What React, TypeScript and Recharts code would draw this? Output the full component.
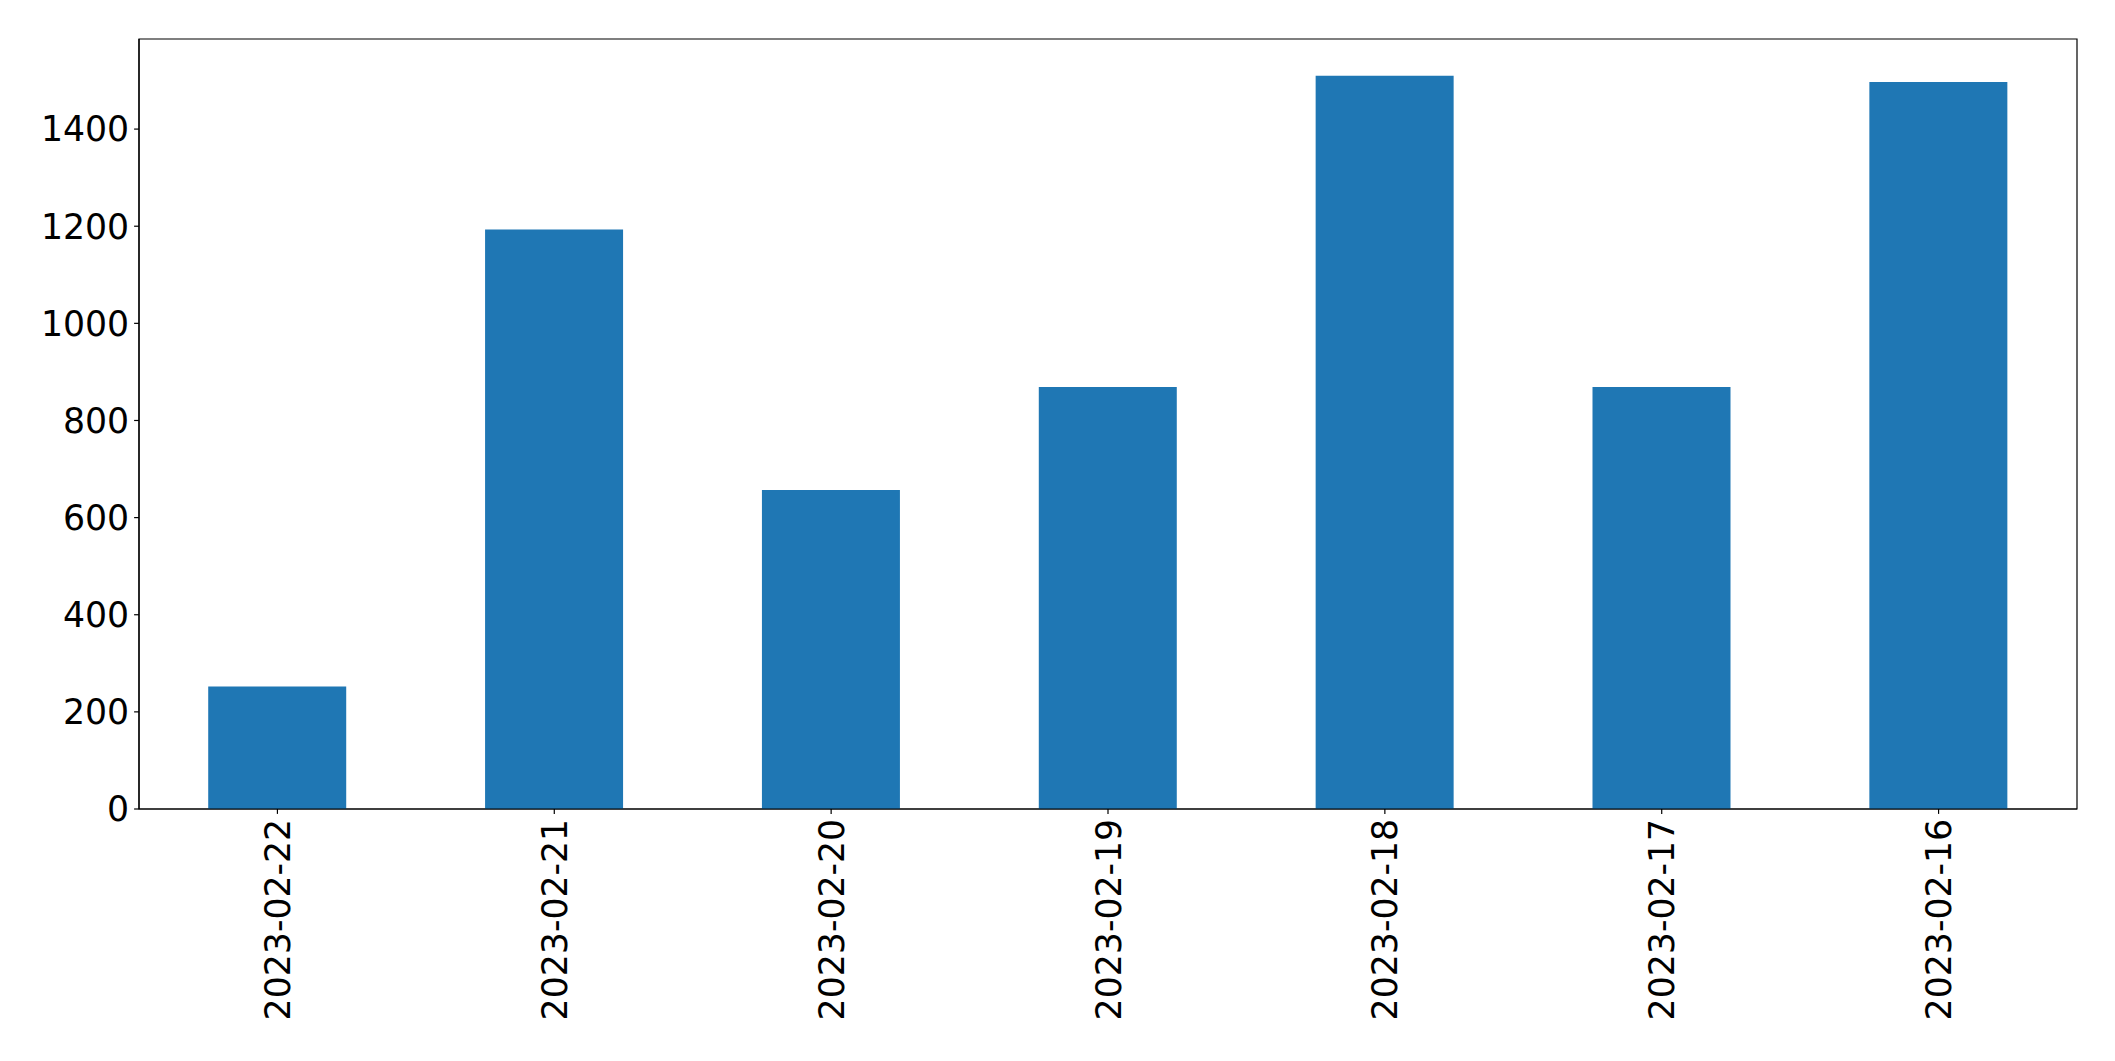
import { BarChart, Bar, XAxis, YAxis, ReferenceArea } from "recharts";

document.body.style.margin = "0";

const dates = [
  "2023-02-22",
  "2023-02-21",
  "2023-02-20",
  "2023-02-19",
  "2023-02-18",
  "2023-02-17",
  "2023-02-16",
];
const counts = [252, 1193, 657, 869, 1510, 869, 1497];
const yTicks = [0, 200, 400, 600, 800, 1000, 1200, 1400];

const data = dates.map((d, i) => ({ date: d, count: counts[i] }));

const FONT = "'DejaVu Sans', sans-serif";
const FS = 34.7;

function DateTick({ x, y, payload }: { x?: number; y?: number; payload?: { value: string } }) {
  return (
    <text
      transform={`translate(${x},${y}) rotate(-90)`}
      textAnchor="end"
      dy="0.36em"
      fontFamily={FONT}
      fontSize={FS}
      fill="#000"
    >
      {payload?.value}
    </text>
  );
}

export default function App() {
  const yMax = Math.max(...counts) * 1.05;
  return (
    <BarChart
      width={2115}
      height={1061}
      data={data}
      margin={{ top: 39, right: 38, left: 0, bottom: 0 }}
      barCategoryGap="25%"
    >
      <XAxis
        dataKey="date"
        height={252}
        tick={<DateTick />}
        tickSize={4.9}
        tickMargin={4.9}
        stroke="#000"
        axisLine={{ stroke: "#000", strokeWidth: 1.2 }}
        tickLine={{ stroke: "#000", strokeWidth: 1.2 }}
        interval={0}
      />
      <YAxis
        width={139}
        domain={[0, yMax]}
        ticks={yTicks}
        tickSize={4.9}
        tickMargin={4.9}
        stroke="#000"
        tick={{ fontFamily: FONT, fontSize: FS, fill: "#000" }}
        axisLine={{ stroke: "#000", strokeWidth: 1.2 }}
        tickLine={{ stroke: "#000", strokeWidth: 1.2 }}
        allowDataOverflow
      />
      <Bar dataKey="count" fill="#1f77b4" isAnimationActive={false} />
      <ReferenceArea
        y1={0}
        y2={yMax}
        fill="none"
        fillOpacity={0}
        stroke="#000"
        strokeWidth={1.2}
        ifOverflow="visible"
      />
    </BarChart>
  );
}
